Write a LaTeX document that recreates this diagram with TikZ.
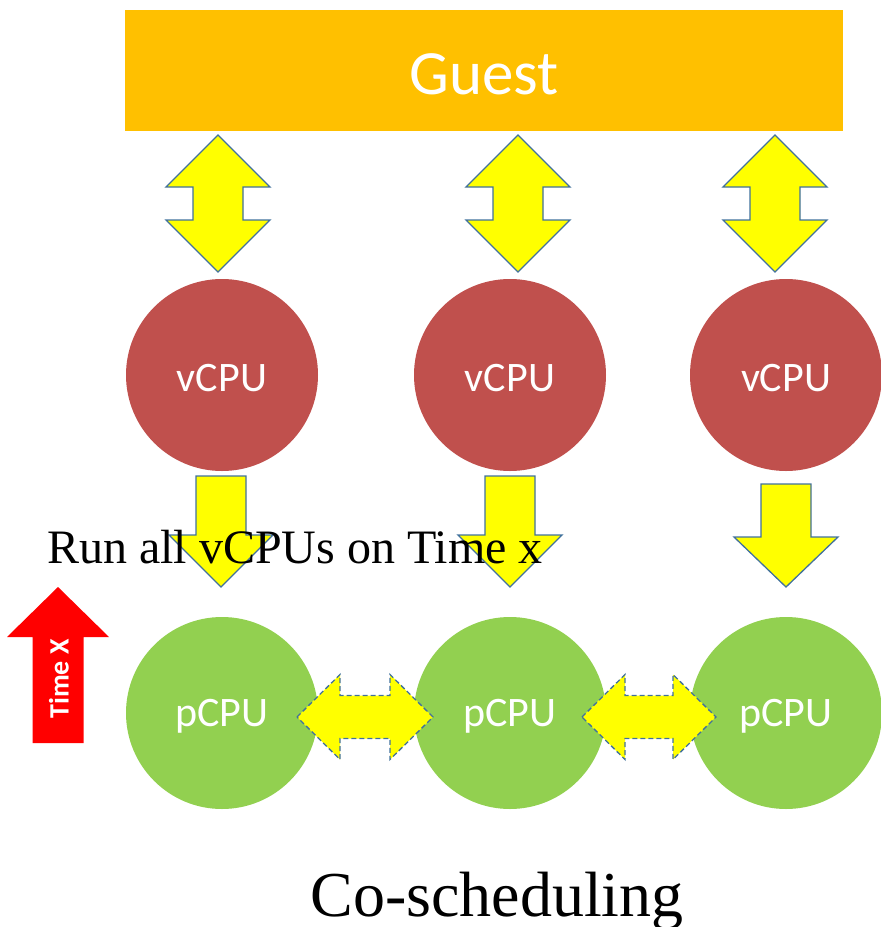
\documentclass[tikz,border=0pt]{standalone}
\usepackage{fontspec}
\setmainfont{Liberation Serif}
\newfontfamily\calib{Carlito}
\begin{document}
\begin{tikzpicture}[x=1pt,y=-1pt,
  yel/.style={fill=yellowA,draw=lineA,line width=1.3pt,line join=miter},
  cpulabel/.style={inner sep=0pt,text=white,font=\calib\fontsize{42}{44}\selectfont},
  vcpu/.style={circle,fill=redA,minimum size=192pt,inner sep=0pt},
  pcpu/.style={circle,fill=greenA,minimum size=192pt,inner sep=0pt}]
\definecolor{yellowA}{HTML}{FFFF00}
\definecolor{lineA}{HTML}{41719C}
\definecolor{redA}{HTML}{C0504D}
\definecolor{greenA}{HTML}{92D050}
\definecolor{orangeA}{HTML}{FFC000}
\useasboundingbox (0,0) rectangle (881,927);
\newcommand\myvdblarrow[3]{% cx, top, bottom
  \path[yel] (#1,#2) -- ({#1+52},{#2+52}) -- ({#1+25},{#2+52}) -- ({#1+25},{#3-52}) -- ({#1+52},{#3-52}) -- (#1,#3) -- ({#1-52},{#3-52}) -- ({#1-25},{#3-52}) -- ({#1-25},{#2+52}) -- ({#1-52},{#2+52}) -- cycle;}
\newcommand\mydownarrow[4]{% cx, top, headbase, tip
  \path[yel] ({#1-25},#2) -- ({#1+25},#2) -- ({#1+25},#3) -- ({#1+52},#3) -- (#1,#4) -- ({#1-52},#3) -- ({#1-25},#3) -- cycle;}
\newcommand\myhdblarrow[3]{% left, right, cy
  \path[yel,dash pattern=on 5pt off 3pt] (#1,#3) -- ({#1+43},{#3-42.5}) -- ({#1+43},{#3-21.5}) -- ({#2-43},{#3-21.5}) -- ({#2-43},{#3-42.5}) -- (#2,#3) -- ({#2-43},{#3+42.5}) -- ({#2-43},{#3+21.5}) -- ({#1+43},{#3+21.5}) -- ({#1+43},{#3+42.5}) -- cycle;}
% Guest
\fill[orangeA] (125,10) rectangle (843,131);
\node[anchor=base,inner sep=0pt,text=white,font=\calib\fontsize{63}{66}\selectfont] (guest) at (484,94) {Guest};
% top double arrows
\myvdblarrow{218}{135}{272}
\myvdblarrow{518}{135}{272}
\myvdblarrow{775}{135}{272}
% vCPUs
\node[vcpu] (v1) at (222,375) {};
\node[vcpu] (v2) at (510,375) {};
\node[vcpu] (v3) at (786,375) {};
\node[cpulabel] (v1t) at (222,378) {vCPU};
\node[cpulabel] (v2t) at (510,378) {vCPU};
\node[cpulabel] (v3t) at (786,378) {vCPU};
% pCPUs
\node[pcpu] (p1) at (222,713) {};
\node[pcpu] (p2) at (510,713) {};
\node[pcpu] (p3) at (786,713) {};
% down arrows
\mydownarrow{221}{476}{535}{587}
\mydownarrow{510}{476}{535}{587}
\mydownarrow{786}{484}{537}{587}
% horizontal arrows
\myhdblarrow{297}{433}{717}
\myhdblarrow{582}{716}{717}
\node[cpulabel] (p1t) at (222,716) {pCPU};
\node[cpulabel] (p2t) at (510,716) {pCPU};
\node[cpulabel] (p3t) at (786,716) {pCPU};
% text
\node[anchor=base west,inner sep=0pt,font=\fontsize{48}{50}\selectfont] (run) at (47,563) {Run all vCPUs on Time x};
% time arrow
\path[fill=red] (58,587) -- (109,637) -- (83.5,637) -- (83.5,743) -- (32.5,743) -- (32.5,637) -- (7,637) -- cycle;
\node[rotate=90,inner sep=0pt,text=white,font=\calib\bfseries\fontsize{28}{30}\selectfont] (timex) at (59,679) {Time X};
\node[anchor=base,inner sep=0pt,font=\fontsize{64}{68}\selectfont] (co) at (497,916) {Co-scheduling};
\end{tikzpicture}
\end{document}
